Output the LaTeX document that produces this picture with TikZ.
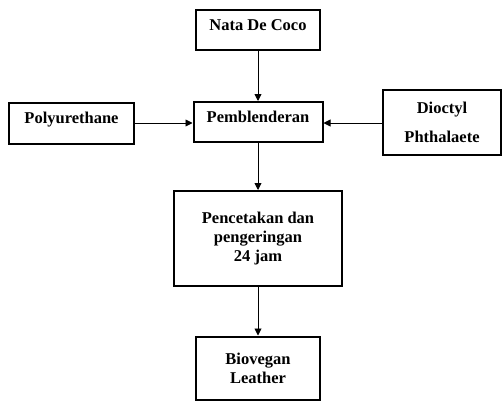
\documentclass[tikz,border=0pt]{standalone}
\usepackage{fontspec}
\setmainfont{Liberation Serif}
\usetikzlibrary{arrows.meta}
\begin{document}
\begin{tikzpicture}[x=1pt,y=-1pt,
  box/.style={draw, line width=2pt, font=\fontsize{16.5}{19}\selectfont\bfseries, align=center, inner sep=0pt},
  single/.style={text height=11pt, text depth=10pt},
  conn/.style={-{Triangle[length=7pt,width=7pt]}, line width=0.9pt}]
\useasboundingbox (0,0) rectangle (502,401);
\node[box, single, minimum width=124pt, minimum height=40pt] (nata) at (258,30) {Nata De Coco};
\node[box, single, minimum width=129pt, minimum height=40pt] (pemb) at (258,122) {Pemblenderan};
\node[box, single, minimum width=125pt, minimum height=41pt] (poly) at (71.5,123) {Polyurethane};
\node[box, minimum width=118pt, minimum height=65pt, font=\fontsize{16.5}{29}\selectfont\bfseries] (dioc) at (442,122.5) {Dioctyl\\Phthalaete};
\node[box, minimum width=168pt, minimum height=95pt] (penc) at (258,238.5) {Pencetakan dan\\pengeringan\\24 jam};
\node[box, minimum width=124pt, minimum height=63pt] (bio) at (258,368) {Biovegan\\Leather};
\draw[conn] (nata) -- (pemb);
\draw[conn] (poly.east) -- (poly.east -| pemb.west);
\draw[conn] (dioc.west |- poly.east) -- (poly.east -| pemb.east);
\draw[conn] (pemb) -- (penc);
\draw[conn] (penc) -- (bio);
\end{tikzpicture}
\end{document}
